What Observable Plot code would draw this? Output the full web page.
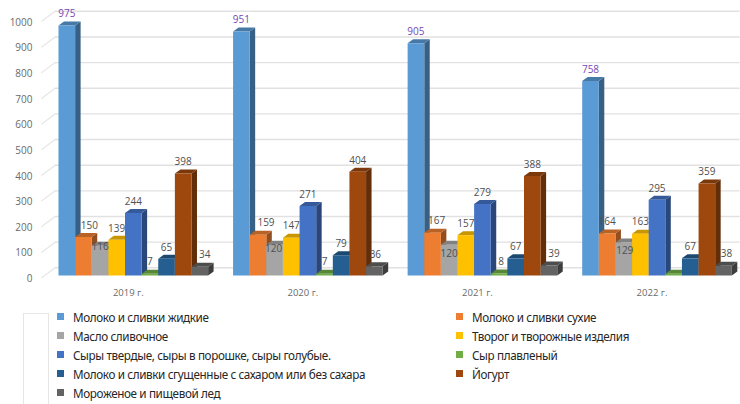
<!DOCTYPE html>
<html><head><meta charset="utf-8">
<script src="https://cdn.jsdelivr.net/npm/d3@7"></script>
<script src="https://cdn.jsdelivr.net/npm/@observablehq/plot@0.6"></script>
<style>
html,body{margin:0;padding:0;background:#fff;overflow:hidden}
#wrap{position:relative;width:740px;height:404px}
#chart{position:absolute;left:0;top:0}
#chart svg{display:block;overflow:visible}
#box{position:absolute;left:23px;top:313px;width:24px;height:100px;border:1px solid #e6e6e6}
#legend{position:absolute;left:0;top:307px;width:740px;display:grid;grid-template-columns:399px 284px;margin-left:57px;grid-auto-rows:19px;font:11.7px "Noto Sans",sans-serif;font-stretch:condensed;letter-spacing:-0.37px;color:#262626}
#legend div{display:flex;align-items:center;white-space:nowrap}
#legend i{display:block;width:7px;height:7px;margin-right:9px;flex:none}
</style></head><body>
<div id="wrap"><div id="chart"></div><div id="box"></div><div id="legend"></div></div>
<script>
const years = ["2019 г.","2020 г.","2021 г.","2022 г."];
const seriesNames = ["Молоко и сливки жидкие","Молоко и сливки сухие","Масло сливочное","Творог и творожные изделия","Сыры твердые, сыры в порошке, сыры голубые.","Сыр плавленый","Молоко и сливки сгущенные с сахаром или без сахара","Йогурт","Мороженое и пищевой лед"];
const colors = ["#5b9bd5","#ed7d31","#a5a5a5","#ffc000","#4472c4","#70ad47","#255e91","#9e480e","#636363"];
const liquid = [975,951,905,758];
const dry = [150,159,167,164];
const butter = [116,120,120,129];
const curd = [139,147,157,163];
const hard = [244,271,279,295];
const processed = [7,7,8,7];
const condensed = [65,79,67,67];
const yogurt = [398,404,388,359];
const iceCream = [34,36,39,38];
const series = [liquid,dry,butter,curd,hard,processed,condensed,yogurt,iceCream];
const yTicks = [0,100,200,300,400,500,600,700,800,900,1000];

// label placement offsets in pixels, "year-series": [dx, dy]
const nudges = {"0-1":[6,0],"0-2":[0,13],"0-8":[5,0],
  "1-1":[8,0],"1-2":[-1,16],"1-8":[1,0],
  "2-1":[4,0],"2-2":[0,21],"2-5":[2,0],"2-8":[5,0],
  "3-2":[1,20],"3-8":[3,0]};
const hiddenLabels = new Set(["3-5"]);

// pseudo-3D geometry in scale units
const groupStep = 10.5, depthX = 0.33, depthY = 15.6, wallX = 0.84, wallY = 30, floorY = -10, axisX = -1.03, wallStart = -0.2, edgeX = 41;
const shade = (c,k) => { const r = d3.rgb(c); return d3.rgb(r.r*k,r.g*k,r.b*k).formatHex(); };

const polys = [];
years.forEach((_,g) => series.forEach((vals,s) => {
  const v = vals[g], l = g*groupStep+s, r = l+1, c = colors[s];
  const add = (id,fill,pts) => pts.forEach(([x,y]) => polys.push({id:`${g}-${s}-${id}`,x,y,fill}));
  add("side",shade(c,0.62),[[r,0],[r+depthX,depthY],[r+depthX,v+depthY],[r,v]]);
  add("top",shade(c,0.78),[[l,v],[l+depthX,v+depthY],[r+depthX,v+depthY],[r,v]]);
  add("front",c,[[l,0],[r,0],[r,v],[l,v]]);
}));

const labelMarks = [];
years.forEach((_,g) => series.forEach((vals,s) => {
  const key = `${g}-${s}`;
  if (hiddenLabels.has(key)) return;
  const [dx,dy] = nudges[key] || [0,0];
  labelMarks.push(Plot.text([{x:g*groupStep+s+0.5,y:vals[g]}],{x:"x",y:"y",text:d=>String(d.y),dx,dy:dy-11.5,
    fill:s===0?"#7a45b5":"#505050",fontSize:10,fontFamily:"Open Sans"}));
}));

const plot = Plot.plot({
  width:740,height:300,marginLeft:35,marginRight:0,marginTop:0,marginBottom:11,
  style:{background:"transparent",fontFamily:"Open Sans",fontSize:"10px"},
  x:{domain:[0,40],range:[58,723]},
  y:{domain:[0,1000],range:[275,18.5]},
  color:{type:"identity"},
  marks:[
    Plot.ruleY(yTicks,{y:d=>d+wallY,x1:wallStart,x2:edgeX,stroke:"#e1e1e1",strokeWidth:1.4}),
    Plot.link(yTicks,{x1:axisX,y1:d=>d+floorY,x2:wallStart,y2:d=>d+wallY,stroke:"#e6e6e6",strokeWidth:1.2}),
    Plot.line(polys,{x:"x",y:"y",z:"id",fill:"fill",stroke:"none"}),
    ...labelMarks,
    Plot.axisY({ticks:yTicks,tickSize:0,tickPadding:3,dy:3.4,label:null,tickFormat:d=>String(d),fill:"#6a6a6a",fontSize:10}),
    Plot.axisX({ticks:years.map((_,g)=>g*groupStep+4.5),tickSize:0,tickPadding:0,dx:-5,label:null,
      tickFormat:d=>years[Math.round((d-4.5)/groupStep)],fill:"#6a6a6a",fontSize:9.5})
  ]
});
document.getElementById("chart").append(plot);
const legend = document.getElementById("legend");
seriesNames.forEach((n,i)=>{
  const d = document.createElement("div");
  const m = document.createElement("i"); m.style.background = colors[i];
  d.append(m, n); legend.append(d);
});
</script></body></html>
